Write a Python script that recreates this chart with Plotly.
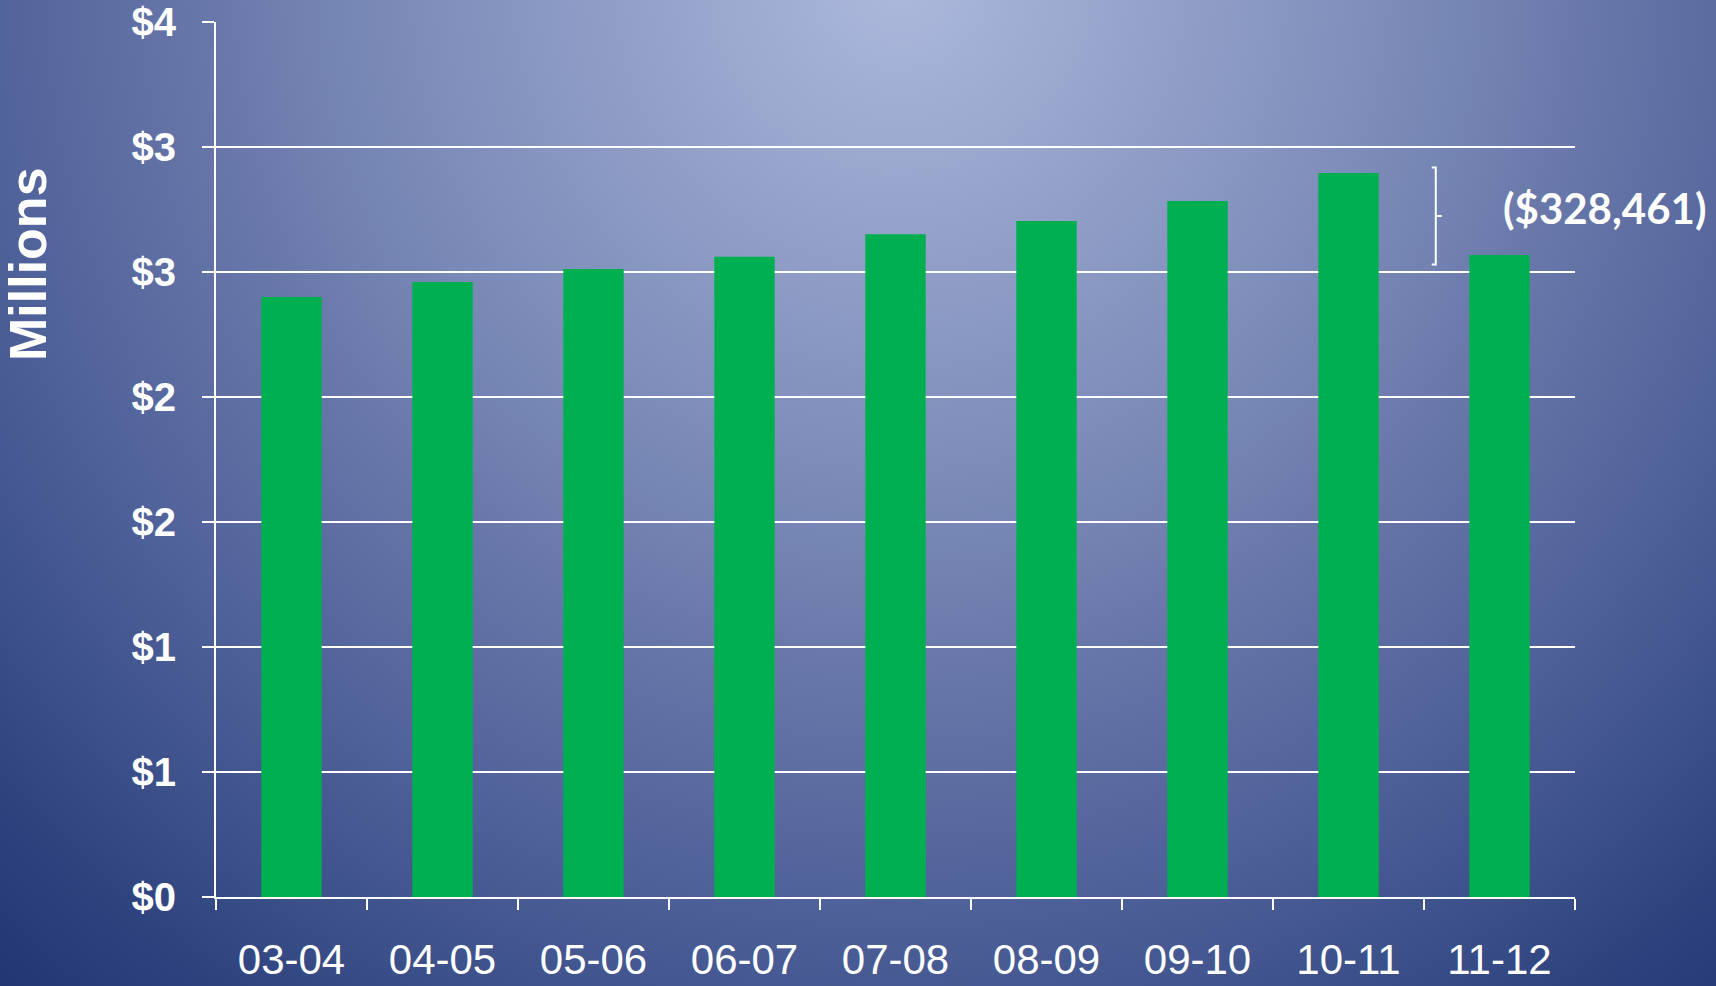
import base64
import plotly.graph_objects as go

# ---- data ----
years = ["03-04", "04-05", "05-06", "06-07", "07-08", "08-09", "09-10", "10-11", "11-12"]
revenue_millions = [2.40, 2.46, 2.512, 2.561, 2.651, 2.704, 2.784, 2.896, 2.568]
y_tick_vals = [0, 0.5, 1.0, 1.5, 2.0, 2.5, 3.0, 3.5]
y_tick_text = ["$0", "$1", "$1", "$2", "$2", "$3", "$3", "$4"]
drop_label = "($328,461)"
y_title = "Millions"

# ---- geometry ----
W, H = 1716, 986
ML, MR, MT, MB = 216, 141, 22, 89
PW, PH = W - ML - MR, H - MT - MB

# background radial gradient as an SVG image
svg = f"""<svg xmlns='http://www.w3.org/2000/svg' width='{W}' height='{H}'>
<defs><radialGradient id='g' cx='900' cy='-20' r='1350' gradientUnits='userSpaceOnUse'>
<stop offset='0' stop-color='#acb8dc'/>
<stop offset='0.074' stop-color='#a3b0d5'/>
<stop offset='0.415' stop-color='#7686b4'/>
<stop offset='0.50' stop-color='#6a79aa'/>
<stop offset='0.68' stop-color='#50629a'/>
<stop offset='0.90' stop-color='#2e437e'/>
<stop offset='1' stop-color='#213672'/>
</radialGradient></defs>
<rect width='{W}' height='{H}' fill='url(#g)'/></svg>"""
bg_uri = "data:image/svg+xml;base64," + base64.b64encode(svg.encode()).decode()

fig = go.Figure()
fig.add_trace(go.Bar(
    x=years, y=revenue_millions,
    marker=dict(color="#00B050", line=dict(width=0)),
    hoverinfo="skip",
))

# brace spanning the drop between the last two bars
top = revenue_millions[7] + 0.022
bot = revenue_millions[8] - 0.038
mid = (top + bot) / 2
xv, xh, xn = 7.578, 7.551, 7.617
brace = (f"M {xh},{top} L {xv},{top} L {xv},{mid} L {xn},{mid} "
         f"M {xv},{mid} L {xv},{bot} L {xh},{bot}")

fig.update_layout(
    width=W, height=H,
    margin=dict(l=ML, r=MR, t=MT, b=MB, pad=0, autoexpand=False),
    paper_bgcolor="#52649a",
    plot_bgcolor="rgba(0,0,0,0)",
    showlegend=False,
    bargap=0.6,
    images=[dict(
        source=bg_uri, xref="paper", yref="paper",
        x=-ML / PW, y=1 + MT / PH, sizex=W / PW, sizey=H / PH,
        xanchor="left", yanchor="top", sizing="stretch", layer="below",
    )],
    xaxis=dict(
        type="category", automargin=False, tickangle=0,
        showgrid=False, showline=True, linecolor="white", linewidth=2,
        ticks="outside", tickson="boundaries", ticklen=11, tickwidth=2, tickcolor="white",
        tickfont=dict(family="Liberation Sans, Arial", size=42, color="white"),
        ticklabelstandoff=25,
        range=[-0.5, 8.5], fixedrange=True,
    ),
    yaxis=dict(
        automargin=False,
        range=[0, 3.5], tickvals=y_tick_vals, ticktext=y_tick_text,
        showgrid=True, gridcolor="white", gridwidth=2,
        showline=True, linecolor="white", linewidth=2, zeroline=False,
        ticks="outside", ticklen=12, tickwidth=2, tickcolor="white",
        tickfont=dict(family="Liberation Sans, Arial", size=40, color="white", weight="bold"),
        ticklabelstandoff=18,
        fixedrange=True,
    ),
    shapes=[dict(type="path", path=brace, xref="x", yref="y",
                 line=dict(color="white", width=2))],
    annotations=[
        dict(text=f"<b>{y_title}</b>", textangle=-90, xref="paper", yref="paper",
             x=(28 - ML) / PW, y=(MT + PH - 264) / PH, xanchor="center", yanchor="middle",
             showarrow=False, font=dict(family="Liberation Sans, Arial", size=52, color="white")),
        dict(text=f"<b>{drop_label}</b>", xref="paper", yref="paper",
             x=(1604 - ML) / PW, y=(MT + PH - 208) / PH, xanchor="center", yanchor="middle",
             showarrow=False, font=dict(family="Lato", size=42, color="white")),
    ],
)

fig.write_html(
    "out.html",
    config={"displayModeBar": False},
    post_script="document.body.style.margin='0';document.body.style.overflow='hidden';",
)
